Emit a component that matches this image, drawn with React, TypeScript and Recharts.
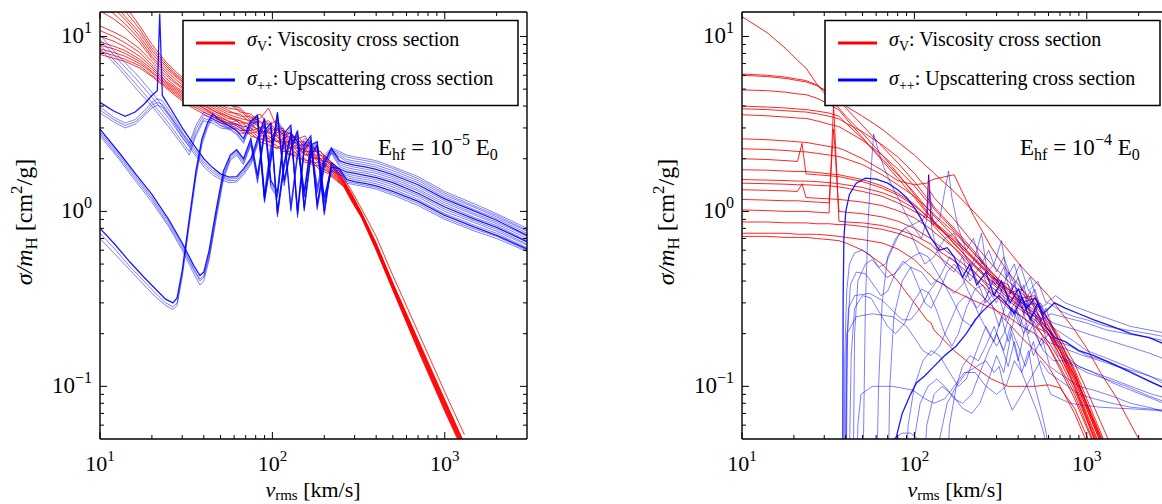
import { LineChart, Line, XAxis, YAxis } from 'recharts';

const FONT = 'Liberation Serif, DejaVu Serif, serif';
const N = null;

// axis ticks (log axes, minor ticks included)
const X_TICKS = [10, 20, 30, 40, 50, 60, 70, 80, 90, 100, 200, 300, 400, 500, 600, 700, 800, 900, 1000, 2000];
const Y_TICKS = [0.06, 0.07, 0.08, 0.09, 0.1, 0.2, 0.3, 0.4, 0.5, 0.6, 0.7, 0.8, 0.9, 1, 2, 3, 4, 5, 6, 7, 8, 9, 10];
const X_DOMAIN = [10, 3000];
const Y_DOMAIN = [0.05, 13.8];

// ---------- left panel: E_hf = 1e-5 E0 ----------
const L_RED_V = [10, 12, 14, 17, 20, 24, 28, 33, 40, 47, 55, 65, 75, 85, 95, 105, 115, 125, 140, 155, 170, 190, 210, 235, 260, 290, 330, 400, 500, 700, 1000, 1300];
const L_RED = [
  [22, 18, 15, 11.5, 9.0, 7.2, 6.2, 5.4, 4.8, 4.4, 4.1, 3.9, 3.4, 3.6, 3.1, 3.3, 2.9, 2.8, 2.6, 2.7, 2.3, 2.2, 2.0, 1.8, 1.55, 1.3, 1.03, 0.72, 0.43, 0.205, 0.093, 0.053],
  [20, 16.5, 14, 11, 8.6, 7.0, 6.0, 5.3, 4.7, 4.3, 4.2, 3.7, 3.6, 3.2, 3.3, 2.9, 3.0, 2.6, 2.7, 2.4, 2.35, 2.1, 2.0, 1.75, 1.5, 1.25, 0.98, 0.66, 0.39, 0.185, 0.084, 0.047],
  [18, 15.5, 13, 10.5, 8.3, 6.8, 5.9, 5.1, 4.6, 4.2, 3.9, 3.8, 3.3, 3.4, 3.9, 3.1, 2.7, 2.8, 2.5, 2.5, 2.2, 2.2, 1.95, 1.72, 1.49, 1.24, 0.97, 0.655, 0.387, 0.183, 0.083, 0.047],
  [16.5, 14.5, 12.5, 10.0, 8.0, 6.6, 5.8, 5.0, 4.5, 4.1, 3.8, 3.5, 3.5, 3.0, 3.2, 2.8, 2.9, 2.5, 2.6, 2.3, 2.4, 2.0, 2.0, 1.7, 1.48, 1.23, 0.965, 0.65, 0.384, 0.181, 0.082, 0.046],
  [15, 13.5, 11.8, 9.6, 7.7, 6.4, 5.6, 4.9, 4.4, 4.0, 3.7, 3.6, 3.2, 3.3, 2.8, 3.0, 2.6, 2.7, 2.4, 2.4, 2.1, 2.1, 1.9, 1.68, 1.47, 1.22, 0.96, 0.645, 0.381, 0.179, 0.081, 0.046],
  [14, 12.6, 11.2, 9.2, 7.5, 6.2, 5.4, 4.8, 4.3, 3.9, 3.6, 3.4, 3.3, 3.0, 3.0, 2.7, 2.8, 2.4, 2.5, 2.2, 2.2, 1.95, 1.92, 1.66, 1.46, 1.21, 0.955, 0.64, 0.378, 0.177, 0.08, 0.045],
  [11.5, 10.6, 9.8, 8.5, 7.2, 6.0, 5.3, 4.7, 4.2, 3.8, 3.5, 3.3, 3.1, 2.9, 2.8, 2.7, 2.5, 2.5, 2.3, 2.25, 2.05, 2.0, 1.8, 1.64, 1.45, 1.2, 0.95, 0.635, 0.375, 0.175, 0.079, 0.045],
  [10.8, 10.0, 9.2, 8.1, 6.9, 5.8, 5.1, 4.6, 4.1, 3.7, 3.5, 3.2, 3.2, 2.8, 2.9, 2.5, 2.6, 2.3, 2.4, 2.1, 2.15, 1.9, 1.85, 1.62, 1.44, 1.19, 0.945, 0.63, 0.372, 0.173, 0.078, 0.044],
  [10.0, 9.4, 8.7, 7.7, 6.7, 5.6, 5.0, 4.5, 4.0, 3.7, 3.4, 3.3, 2.9, 3.0, 2.6, 2.8, 2.4, 2.5, 2.2, 2.3, 2.0, 2.0, 1.75, 1.6, 1.43, 1.18, 0.94, 0.625, 0.369, 0.171, 0.077, 0.044],
  [9.3, 8.8, 8.3, 7.4, 6.5, 5.5, 4.9, 4.4, 3.9, 3.6, 3.3, 3.1, 3.0, 2.7, 2.7, 2.5, 2.5, 2.3, 2.3, 2.1, 2.1, 1.85, 1.8, 1.58, 1.42, 1.17, 0.935, 0.62, 0.366, 0.169, 0.076, 0.043],
  [8.9, 8.5, 8.0, 7.2, 6.3, 5.4, 4.8, 4.3, 3.9, 3.5, 3.3, 3.0, 2.8, 2.9, 2.5, 2.6, 2.3, 2.4, 2.1, 2.2, 1.9, 1.9, 1.72, 1.56, 1.41, 1.16, 0.93, 0.615, 0.363, 0.167, 0.075, 0.043],
  [8.5, 8.1, 7.7, 7.0, 6.2, 5.3, 4.7, 4.2, 3.8, 3.5, 3.2, 3.1, 2.7, 2.6, 2.6, 2.3, 2.4, 2.1, 2.2, 1.95, 1.95, 1.78, 1.7, 1.54, 1.4, 1.15, 0.925, 0.61, 0.36, 0.165, 0.074, 0.042],
  [8.2, 7.8, 7.4, 6.8, 6.0, 5.2, 4.6, 4.1, 3.7, 3.4, 3.2, 2.9, 2.9, 2.6, 2.5, 2.4, 2.2, 2.2, 2.0, 2.0, 1.85, 1.8, 1.68, 1.52, 1.39, 1.14, 0.92, 0.605, 0.357, 0.163, 0.073, 0.042],
  [7.9, 7.5, 7.2, 6.6, 5.9, 5.1, 4.5, 4.0, 3.6, 3.3, 3.1, 2.8, 2.8, 2.5, 2.4, 2.3, 2.3, 2.1, 2.1, 1.9, 1.9, 1.72, 1.65, 1.5, 1.38, 1.13, 0.915, 0.6, 0.354, 0.161, 0.072, 0.041],
];

// blue bundle starting near 10 cm^2/g
const L_BLUE_A_V = [10, 13, 16, 20, 25, 30, 33, 36, 40, 45, 50, 56, 62, 68, 75, 82, 90, 98, 107, 117, 128, 140, 153, 167, 182, 200, 220, 245, 270, 300, 350, 400, 500, 700, 1000, 1500, 2000, 3000];
const L_BLUE_A = [
  [10.2, 7.6, 6.2, 4.8, 3.6, 2.8, 2.45, 3.1, 3.7, 3.5, 3.3, 3.2, 3.3, 3.0, 3.2, 3.6, 1.3, 2.4, 3.3, 2.9, 1.1, 2.2, 2.6, 2.5, 1.4, 2.1, 2.3, 2.2, 2.1, 2.05, 2.0, 1.95, 1.8, 1.58, 1.3, 1.1, 0.97, 0.8],
  [9.6, 7.2, 5.8, 4.5, 3.4, 2.65, 2.35, 2.95, 3.55, 3.4, 3.2, 3.1, 3.2, 2.9, 3.1, 3.5, 1.25, 2.3, 3.2, 2.8, 1.05, 2.15, 2.5, 2.45, 1.35, 2.05, 2.25, 2.15, 2.05, 2.0, 1.95, 1.9, 1.76, 1.54, 1.27, 1.07, 0.95, 0.78],
  [8.9, 6.8, 5.4, 4.2, 3.2, 2.5, 2.2, 2.8, 3.4, 3.3, 3.1, 3.0, 3.1, 2.85, 3.0, 3.4, 1.2, 2.25, 3.1, 2.75, 1.02, 2.1, 2.45, 2.4, 1.3, 2.0, 2.2, 2.1, 1.98, 1.94, 1.89, 1.84, 1.71, 1.5, 1.24, 1.05, 0.93, 0.77],
  [8.5, 6.5, 5.1, 4.0, 3.05, 2.4, 2.1, 2.7, 3.3, 3.2, 3.0, 2.95, 3.0, 2.8, 2.9, 3.3, 1.15, 2.2, 3.0, 2.7, 1.0, 2.05, 2.4, 2.35, 1.27, 1.95, 2.15, 2.05, 1.93, 1.89, 1.84, 1.79, 1.66, 1.46, 1.21, 1.02, 0.91, 0.75],
];

// blue bundle near 4 cm^2/g with the resonance spike
const L_BLUE_B_V = [10, 12, 14, 16, 18, 20, 21.5, 22.2, 23, 26, 30, 35, 40, 45, 50, 56, 62, 68, 75, 82, 90, 98, 107, 117, 128, 140, 153, 167, 182, 200, 220, 245, 270, 300, 350, 400, 500, 700, 1000, 1500, 2000, 3000];
const L_BLUE_B = [
  [4.2, 3.75, 3.5, 3.7, 4.1, 4.6, 4.9, 13.5, 4.6, 3.8, 3.0, 2.4, 2.0, 1.78, 1.64, 1.57, 1.58, 1.75, 2.0, 2.6, 3.4, 1.5, 1.3, 2.8, 3.1, 1.0, 2.4, 2.7, 1.1, 1.9, 2.3, 1.95, 1.88, 1.84, 1.79, 1.74, 1.62, 1.42, 1.18, 1.0, 0.89, 0.73],
  [3.95, 3.45, 3.2, 3.35, 3.75, 4.2, 4.4, 4.35, 4.3, 3.6, 2.85, 2.3, 1.92, 1.72, 1.6, 1.53, 1.54, 1.7, 1.95, 2.5, 3.3, 1.45, 1.25, 2.7, 3.0, 0.97, 2.3, 2.6, 1.07, 1.85, 2.25, 1.9, 1.83, 1.79, 1.74, 1.69, 1.58, 1.38, 1.15, 0.97, 0.87, 0.72],
  [3.8, 3.35, 3.1, 3.25, 3.6, 4.05, 4.2, 4.15, 4.1, 3.45, 2.75, 2.22, 1.86, 1.67, 1.56, 1.5, 1.5, 1.66, 1.9, 2.45, 3.2, 1.4, 1.22, 2.65, 2.9, 0.95, 2.25, 2.55, 1.05, 1.8, 2.2, 1.85, 1.78, 1.74, 1.69, 1.65, 1.54, 1.34, 1.12, 0.95, 0.85, 0.7],
  [3.65, 3.25, 3.0, 3.15, 3.5, 3.9, 4.05, 4.0, 3.95, 3.35, 2.65, 2.15, 1.8, 1.62, 1.52, 1.46, 1.47, 1.62, 1.85, 2.4, 3.1, 1.36, 1.2, 2.6, 2.85, 0.92, 2.2, 2.5, 1.02, 1.75, 2.15, 1.8, 1.73, 1.69, 1.65, 1.6, 1.5, 1.31, 1.09, 0.92, 0.83, 0.68],
];

// blue bundle near 3 cm^2/g, dip at ~38 km/s
const L_BLUE_C_V = [10, 13, 16, 20, 25, 30, 35, 38, 40, 43, 47, 52, 57, 62, 68, 75, 82, 90, 98, 107, 117, 128, 140, 153, 167, 182, 200, 220, 245, 270, 300, 350, 400, 500, 700, 1000, 1500, 2000, 3000];
const L_BLUE_C = [
  [2.95, 2.15, 1.65, 1.25, 0.9, 0.66, 0.49, 0.43, 0.45, 0.6, 1.0, 1.7, 2.1, 2.25, 2.0, 2.6, 1.6, 2.9, 3.2, 1.0, 1.9, 2.8, 2.5, 1.3, 2.4, 2.5, 1.2, 1.8, 1.75, 1.68, 1.65, 1.6, 1.56, 1.46, 1.27, 1.06, 0.9, 0.81, 0.67],
  [2.85, 2.08, 1.6, 1.2, 0.87, 0.64, 0.47, 0.41, 0.43, 0.57, 0.95, 1.62, 2.05, 2.2, 1.95, 2.5, 1.55, 2.8, 3.1, 0.97, 1.85, 2.7, 2.45, 1.25, 2.35, 2.45, 1.15, 1.75, 1.7, 1.64, 1.6, 1.56, 1.52, 1.42, 1.24, 1.03, 0.88, 0.79, 0.65],
  [2.78, 2.02, 1.55, 1.17, 0.84, 0.62, 0.46, 0.4, 0.42, 0.55, 0.92, 1.58, 2.0, 2.15, 1.9, 2.45, 1.5, 2.75, 3.05, 0.95, 1.8, 2.65, 2.4, 1.22, 2.3, 2.4, 1.12, 1.72, 1.66, 1.6, 1.56, 1.52, 1.48, 1.38, 1.21, 1.0, 0.86, 0.77, 0.64],
  [2.7, 1.97, 1.5, 1.13, 0.82, 0.6, 0.44, 0.38, 0.4, 0.53, 0.88, 1.52, 1.95, 2.1, 1.85, 2.4, 1.45, 2.7, 3.0, 0.93, 1.75, 2.6, 2.35, 1.2, 2.25, 2.35, 1.1, 1.7, 1.62, 1.56, 1.52, 1.48, 1.44, 1.34, 1.17, 0.97, 0.83, 0.75, 0.62],
];

// lowest blue bundle, dip at ~27 km/s
const L_BLUE_D_V = [10, 12, 15, 18, 21, 24, 26.5, 28, 30, 33, 36, 39, 42, 45, 50, 56, 62, 68, 75, 82, 90, 98, 107, 117, 128, 140, 153, 167, 182, 200, 220, 245, 270, 300, 350, 400, 500, 700, 1000, 1500, 2000, 3000];
const L_BLUE_D = [
  [0.8, 0.66, 0.51, 0.42, 0.36, 0.315, 0.3, 0.32, 0.46, 0.92, 1.7, 2.6, 3.2, 3.6, 3.3, 3.1, 2.9, 2.6, 3.3, 3.5, 1.2, 2.0, 3.7, 1.5, 2.3, 2.9, 1.05, 2.1, 2.4, 1.0, 1.9, 1.75, 1.52, 1.48, 1.44, 1.4, 1.3, 1.14, 0.95, 0.81, 0.73, 0.61],
  [0.75, 0.62, 0.48, 0.4, 0.34, 0.3, 0.285, 0.3, 0.44, 0.88, 1.62, 2.5, 3.1, 3.5, 3.2, 3.0, 2.8, 2.5, 3.2, 3.4, 1.15, 1.95, 3.6, 1.45, 2.25, 2.8, 1.02, 2.05, 2.35, 0.97, 1.85, 1.7, 1.48, 1.45, 1.41, 1.37, 1.27, 1.11, 0.92, 0.79, 0.72, 0.6],
  [0.7, 0.58, 0.46, 0.38, 0.325, 0.29, 0.275, 0.29, 0.42, 0.84, 1.55, 2.4, 3.0, 3.4, 3.1, 2.95, 2.75, 2.45, 3.1, 3.3, 1.12, 1.9, 3.5, 1.4, 2.2, 2.75, 1.0, 2.0, 2.3, 0.95, 1.8, 1.65, 1.45, 1.42, 1.38, 1.34, 1.24, 1.08, 0.9, 0.77, 0.7, 0.59],
];

// ---------- right panel: E_hf = 1e-4 E0 ----------
const R_RED_V = [10, 14, 18, 21, 22.3, 23.5, 27, 32, 34, 36.5, 40, 50, 65, 80, 100, 118, 121, 125, 130, 170, 220, 280, 350, 420, 500, 600, 700, 850, 1000, 1200, 1500, 2000];
const R_RED = [
  [13.0, 10.5, 8.5, 7.3, N, 6.6, 5.4, 4.4, N, 3.9, 3.5, 2.8, 2.1, 1.65, 1.25, 1.0, N, 0.93, 0.88, 0.65, 0.5, 0.4, 0.33, 0.28, 0.23, 0.17, 0.125, 0.085, 0.058, 0.038, 0.022, 0.011],
  [6.1, 6.0, 5.85, 5.7, N, 5.6, 5.3, 4.7, N, 4.3, 3.9, 3.1, 2.35, 1.9, 1.48, 1.2, N, 1.13, 1.06, 0.8, 0.6, 0.45, 0.36, 0.3, 0.26, 0.21, 0.16, 0.105, 0.07, 0.045, 0.026, 0.013],
  [6.0, 5.9, 5.75, 5.6, N, 5.5, 5.25, 4.8, N, 4.5, 4.0, 3.5, 2.95, 2.5, 2.1, 1.8, N, 1.72, 1.65, 1.3, 1.0, 0.78, 0.6, 0.48, 0.4, 0.33, 0.27, 0.21, 0.165, 0.12, 0.085, 0.05],
  [4.95, 4.9, 4.8, 4.7, N, 4.65, 4.45, 4.1, N, 3.8, 3.4, 2.65, 1.95, 1.55, 1.2, 0.98, N, 0.92, 0.86, 0.66, 0.5, 0.4, 0.36, 0.3, 0.32, 0.22, 0.16, 0.1, 0.065, 0.04, 0.023, 0.012],
  [4.0, 3.95, 3.9, 3.85, N, 3.82, 3.75, 3.65, N, 3.5, 3.2, 2.6, 2.0, 1.62, 1.28, 1.05, N, 0.99, 0.94, 0.72, 0.54, 0.42, 0.38, 0.28, 0.3, 0.24, 0.18, 0.12, 0.078, 0.05, 0.029, 0.015],
  [3.86, 3.82, 3.76, 3.72, N, 3.7, 3.62, 3.5, N, 3.38, 3.2, 2.85, 2.4, 2.05, 1.65, 1.35, N, 1.28, 1.2, 0.9, 0.66, 0.5, 0.4, 0.34, 0.29, 0.23, 0.18, 0.125, 0.085, 0.055, 0.032, 0.017],
  [3.57, 3.52, 3.46, 3.42, N, 3.4, 3.3, 3.15, N, 3.05, 2.9, 2.55, 2.1, 1.75, 1.4, 1.15, N, 1.1, 1.03, 0.78, 0.58, 0.44, 0.33, 0.3, 0.25, 0.2, 0.15, 0.1, 0.066, 0.042, 0.025, 0.013],
  [2.6, 2.57, 2.53, 2.5, N, 2.48, 2.42, 2.35, N, 2.3, 2.22, 2.0, 1.72, 1.5, 1.42, 1.45, N, 1.5, 1.53, 1.62, 0.95, 0.62, 0.45, 0.36, 0.3, 0.24, 0.18, 0.12, 0.08, 0.052, 0.03, 0.016],
  [2.28, 2.26, 2.23, 2.2, N, 2.19, 2.15, 2.1, N, 2.06, 2.0, 1.85, 1.62, 1.42, 1.22, 1.05, N, 1.0, 0.96, 0.76, 0.58, 0.45, 0.36, 0.31, 0.27, 0.22, 0.17, 0.115, 0.078, 0.05, 0.03, 0.016],
  [2.0, 1.98, 1.95, 1.93, 2.45, 1.64, 1.62, 1.6, N, 1.58, 1.55, 1.48, 1.36, 1.24, 1.08, 0.94, N, 0.9, 0.87, 0.7, 0.55, 0.43, 0.35, 0.3, 0.26, 0.21, 0.16, 0.11, 0.074, 0.048, 0.028, 0.015],
  [1.73, 1.72, 1.7, 1.69, N, 1.69, 1.67, 1.64, N, 1.62, 1.59, 1.52, 1.4, 1.27, 1.1, 0.94, N, 0.9, 0.86, 0.68, 0.53, 0.42, 0.34, 0.36, 0.28, 0.2, 0.15, 0.1, 0.068, 0.044, 0.026, 0.014],
  [1.52, 1.51, 1.5, 1.49, N, 1.49, 1.48, 1.46, N, 1.44, 1.42, 1.37, 1.28, 1.18, 1.04, 0.9, N, 0.87, 0.84, 0.68, 0.54, 0.43, 0.36, 0.32, 0.33, 0.24, 0.19, 0.135, 0.095, 0.063, 0.038, 0.02],
  [1.45, 1.44, 1.43, 1.42, N, 1.42, 1.41, 1.4, N, 1.38, 1.36, 1.3, 1.22, 1.12, 1.0, 0.92, 1.62, 0.86, 0.82, 0.62, 0.46, 0.35, 0.28, 0.25, 0.22, 0.2, 0.16, 0.115, 0.08, 0.053, 0.032, 0.017],
  [1.33, 1.32, 1.31, 1.3, 1.44, 1.2, 1.19, 1.18, N, 1.17, 1.16, 1.13, 1.08, 1.01, 0.92, 0.82, N, 0.79, 0.76, 0.62, 0.49, 0.39, 0.32, 0.28, 0.25, 0.21, 0.165, 0.115, 0.078, 0.05, 0.03, 0.016],
  [1.17, 1.16, 1.15, 1.15, N, 1.14, 1.13, 1.12, 2.96, 1.0, 0.99, 0.97, 0.93, 0.88, 0.8, 0.72, N, 0.7, 0.67, 0.55, 0.45, 0.37, 0.31, 0.27, 0.24, 0.2, 0.16, 0.11, 0.075, 0.048, 0.028, 0.015],
  [1.02, 1.01, 1.0, 1.0, N, 1.0, 0.99, 0.98, 4.1, 0.88, 0.87, 0.86, 0.83, 0.79, 0.73, 0.67, N, 0.65, 0.62, 0.52, 0.42, 0.34, 0.29, 0.25, 0.22, 0.18, 0.14, 0.095, 0.064, 0.041, 0.024, 0.013],
  [0.87, 0.87, 0.86, 0.86, N, 0.86, 0.85, 0.85, N, 0.84, 0.84, 0.82, 0.79, 0.75, 0.69, 0.62, N, 0.6, 0.58, 0.47, 0.37, 0.29, 0.23, 0.19, 0.16, 0.13, 0.1, 0.07, 0.048, 0.032, 0.019, 0.01],
  [0.75, 0.75, 0.75, 0.74, N, 0.74, 0.74, 0.73, N, 0.72, 0.71, 0.69, 0.66, 0.61, 0.53, 0.45, N, 0.43, 0.41, 0.35, 0.31, 0.28, 0.25, 0.22, 0.2, 0.17, 0.13, 0.09, 0.06, 0.039, 0.023, 0.012],
  [0.72, 0.72, 0.71, 0.71, N, 0.71, 0.7, 0.69, N, 0.68, 0.66, 0.6, 0.5, 0.4, 0.3, 0.24, N, 0.23, 0.21, 0.16, 0.13, 0.11, 0.1, 0.1, 0.1, 0.102, 0.098, 0.075, 0.052, 0.034, 0.02, 0.011],
];

// right panel blue curves as [v, sigma] pairs
const R_BLUE: number[][][] = [
  [[38.4, 0.02], [38.6, 0.3], [39, 0.7], [40, 1.0], [42, 1.25], [46, 1.45], [52, 1.55], [60, 1.53], [70, 1.45], [80, 1.33], [90, 1.2], [100, 1.05], [110, 0.9], [125, 0.7], [140, 0.6], [155, 0.62], [170, 0.55], [190, 0.42], [210, 0.5], [230, 0.38], [260, 0.45], [290, 0.33], [320, 0.4], [360, 0.3], [400, 0.36], [450, 0.28], [500, 0.32], [560, 0.26], [650, 0.3], [750, 0.28], [900, 0.26], [1100, 0.24], [1400, 0.22], [1800, 0.2], [2300, 0.19], [3000, 0.17]],
  [[39, 0.02], [39.5, 0.15], [40.5, 0.35], [42, 0.5], [45, 0.58], [50, 0.6], [56, 0.56], [62, 0.48], [68, 0.5], [75, 0.62], [82, 0.75], [88, 0.8], [95, 0.75], [105, 0.6], [115, 0.5], [130, 0.55], [150, 0.7], [170, 0.75], [190, 0.6], [220, 0.45], [260, 0.3], [300, 0.36], [340, 0.24], [380, 0.3], [430, 0.22], [500, 0.26], [580, 0.2], [680, 0.18], [800, 0.17], [1000, 0.15], [1300, 0.14], [1700, 0.125], [2200, 0.11], [3000, 0.095]],
  [[40, 0.02], [41, 0.2], [42.5, 0.38], [46, 0.45], [52, 0.44], [58, 0.38], [64, 0.33], [70, 0.35], [78, 0.45], [86, 0.52], [95, 0.48], [105, 0.38], [115, 0.3], [125, 0.28], [140, 0.35], [155, 0.45], [170, 0.5], [185, 0.45], [205, 0.35], [230, 0.28], [260, 0.32], [290, 0.42], [320, 0.35], [350, 0.45], [390, 0.3], [430, 0.38], [480, 0.25], [540, 0.3], [620, 0.22], [720, 0.2], [850, 0.18], [1000, 0.16], [1300, 0.145], [1700, 0.13], [2300, 0.115], [3000, 0.1]],
  [[41.5, 0.02], [43, 0.15], [45, 0.28], [50, 0.33], [56, 0.32], [62, 0.27], [70, 0.22], [78, 0.2], [88, 0.23], [98, 0.3], [110, 0.36], [122, 0.34], [135, 0.27], [150, 0.2], [165, 0.17], [180, 0.2], [200, 0.28], [225, 0.36], [250, 0.38], [280, 0.3], [310, 0.22], [340, 0.3], [380, 0.4], [420, 0.28], [470, 0.35], [520, 0.22], [580, 0.28], [650, 0.2], [750, 0.15], [900, 0.13], [1100, 0.12], [1400, 0.105], [1800, 0.095], [2400, 0.085], [3000, 0.078]],
  [[40, 0.02], [40.6, 0.2], [46, 0.25], [57, 0.26], [75, 0.25], [90, 0.22], [100, 0.19], [112, 0.16], [125, 0.15], [140, 0.17], [160, 0.23], [180, 0.3], [200, 0.33], [220, 0.3], [245, 0.24], [270, 0.2], [300, 0.17], [330, 0.2], [370, 0.28], [410, 0.22], [450, 0.3], [500, 0.2], [560, 0.16], [640, 0.14], [740, 0.14], [860, 0.13], [1000, 0.12], [1300, 0.11], [1700, 0.1], [2300, 0.088], [3000, 0.08]],
  [[46, 0.02], [47, 0.06], [49, 0.09], [57, 0.1], [75, 0.1], [98, 0.095], [115, 0.085], [130, 0.08], [150, 0.085], [170, 0.1], [195, 0.12], [225, 0.12], [260, 0.1], [300, 0.09], [340, 0.1], [380, 0.14], [420, 0.12], [470, 0.09], [520, 0.07], [560, 0.055], [600, 0.04], [620, 0.03]],
  [[70, 0.03], [75, 0.05], [85, 0.054], [95, 0.054], [105, 0.05], [115, 0.045], [125, 0.04]],
  [[74, 0.03], [78, 0.05], [85, 0.07], [95, 0.09], [103, 0.105], [115, 0.115], [130, 0.13], [150, 0.15], [175, 0.17], [200, 0.2], [225, 0.24], [250, 0.27], [280, 0.3], [310, 0.33], [340, 0.3], [380, 0.26], [420, 0.32], [470, 0.24], [520, 0.3], [580, 0.22], [650, 0.19], [750, 0.18], [900, 0.16], [1100, 0.15], [1400, 0.135], [1800, 0.12], [2400, 0.105], [3000, 0.095]],
  [[50, 0.02], [52, 0.3], [54, 0.9], [56, 1.7], [58, 2.77], [62, 2.2], [67, 1.75], [74, 1.4], [81, 1.18], [90, 0.95], [100, 0.8], [110, 0.7], [118, 0.9], [122, 1.3], [126, 0.8], [135, 0.6], [150, 0.5], [170, 0.45], [190, 0.55], [210, 0.4], [240, 0.48], [270, 0.36], [300, 0.42], [340, 0.3], [380, 0.38], [430, 0.26], [480, 0.32], [540, 0.24], [620, 0.26], [720, 0.25], [850, 0.24], [1000, 0.23], [1300, 0.21], [1700, 0.2], [2300, 0.19], [3000, 0.18]],
  [[60, 0.02], [62, 0.1], [65, 0.3], [70, 0.55], [78, 0.7], [88, 0.8], [100, 0.85], [112, 0.9], [118, 1.0], [121, 1.62], [125, 1.1], [129, 0.84], [140, 0.9], [152, 1.4], [158, 1.7], [165, 1.2], [180, 0.8], [200, 0.6], [220, 0.7], [245, 0.5], [270, 0.6], [300, 0.45], [330, 0.55], [370, 0.4], [410, 0.5], [460, 0.35], [520, 0.4], [580, 0.3], [660, 0.33], [750, 0.3], [900, 0.28], [1100, 0.26], [1400, 0.24], [1800, 0.22], [2300, 0.21], [3000, 0.2]],
  [[70, 0.02], [72, 0.1], [76, 0.25], [85, 0.4], [95, 0.48], [110, 0.45], [125, 0.38], [140, 0.42], [160, 0.55], [180, 0.5], [200, 0.42], [225, 0.55], [245, 0.75], [265, 0.45], [290, 0.5], [320, 0.68], [345, 0.42], [380, 0.5], [420, 0.35], [470, 0.42], [530, 0.28], [600, 0.3], [700, 0.27], [850, 0.25], [1000, 0.24], [1300, 0.22], [1700, 0.21], [2300, 0.2], [3000, 0.19]],
  [[88, 0.02], [92, 0.06], [100, 0.1], [112, 0.14], [125, 0.16], [140, 0.15], [160, 0.12], [180, 0.1], [200, 0.11], [230, 0.16], [260, 0.22], [290, 0.18], [320, 0.25], [350, 0.18], [390, 0.27], [430, 0.2], [480, 0.24], [540, 0.17], [600, 0.2], [680, 0.15], [780, 0.14], [900, 0.13], [1100, 0.12], [1400, 0.11], [1800, 0.1], [2400, 0.09], [3000, 0.085]],
  [[110, 0.02], [118, 0.06], [130, 0.09], [145, 0.1], [165, 0.09], [190, 0.075], [215, 0.07], [240, 0.08], [270, 0.11], [300, 0.15], [330, 0.12], [365, 0.2], [400, 0.14], [440, 0.22], [490, 0.15], [550, 0.19], [610, 0.13], [680, 0.12], [780, 0.11], [900, 0.1], [1100, 0.095], [1400, 0.088], [1800, 0.08], [2400, 0.075], [3000, 0.07]],
  [[150, 0.02], [160, 0.06], [175, 0.1], [190, 0.13], [210, 0.15], [235, 0.14], [260, 0.17], [290, 0.22], [320, 0.17], [350, 0.13], [380, 0.18], [420, 0.12], [460, 0.16], [500, 0.1], [540, 0.075], [580, 0.055], [610, 0.04], [640, 0.025]],
  [[130, 0.02], [140, 0.05], [155, 0.08], [175, 0.1], [200, 0.12], [230, 0.13], [260, 0.14], [290, 0.12], [310, 0.13], [340, 0.09], [370, 0.073], [420, 0.09], [480, 0.114], [540, 0.14], [600, 0.12], [680, 0.11], [780, 0.1], [900, 0.09], [1100, 0.085], [1400, 0.08], [1800, 0.076], [2400, 0.074], [3000, 0.073]],
  [[39.5, 0.02], [40.2, 0.15], [41.5, 0.28], [45, 0.33], [55, 0.34], [65, 0.31], [75, 0.27], [85, 0.24], [95, 0.24], [108, 0.28], [120, 0.34], [135, 0.4], [150, 0.38], [170, 0.3], [190, 0.24], [215, 0.22], [240, 0.26], [270, 0.35], [300, 0.3], [330, 0.38], [370, 0.25], [410, 0.33], [460, 0.2], [520, 0.26], [590, 0.18], [680, 0.17], [800, 0.16], [950, 0.15], [1200, 0.14], [1500, 0.13], [2000, 0.12], [3000, 0.105]],
  [[44, 0.02], [45, 0.2], [47, 0.4], [52, 0.5], [57, 0.53], [63, 0.47], [69, 0.42], [77, 0.44], [86, 0.5], [97, 0.55], [108, 0.58], [120, 0.55], [135, 0.45], [150, 0.38], [170, 0.34], [190, 0.38], [215, 0.48], [240, 0.55], [265, 0.45], [295, 0.38], [330, 0.48], [360, 0.34], [400, 0.42], [450, 0.3], [500, 0.36], [560, 0.25], [640, 0.23], [740, 0.22], [870, 0.21], [1000, 0.2], [1300, 0.185], [1700, 0.17], [2300, 0.155], [3000, 0.14]],
  [[95, 0.02], [100, 0.05], [108, 0.08], [120, 0.1], [135, 0.11], [150, 0.1], [170, 0.085], [190, 0.08], [215, 0.09], [240, 0.12], [270, 0.16], [300, 0.2], [330, 0.16], [360, 0.22], [400, 0.17], [440, 0.13], [490, 0.18], [550, 0.12], [620, 0.09], [700, 0.085], [800, 0.08], [950, 0.078], [1200, 0.076], [1500, 0.075], [2000, 0.074], [3000, 0.072]],
];
const R_BLUE_DARK = [0, 7];

const RED = '#ff0000';
const BLUE = '#0000ff';

type Pt = { v: number; s: number | null };
type Series = { pts: Pt[]; color: string; op: number; w: number };

function fromGrid(vs: number[], rows: (number | null)[][], color: string, op: number, dark: number[] = []): Series[] {
  return rows.map((r, i) => ({
    pts: vs.map((v, j) => ({ v, s: r[j] })),
    color,
    op: dark.includes(i) ? 0.9 : op,
    w: dark.includes(i) ? 1.3 : 1,
  }));
}

const LEFT_SERIES: Series[] = [
  ...fromGrid(L_RED_V, L_RED, RED, 0.8),
  ...fromGrid(L_BLUE_A_V, L_BLUE_A, BLUE, 0.5),
  ...fromGrid(L_BLUE_B_V, L_BLUE_B, BLUE, 0.5, [0]),
  ...fromGrid(L_BLUE_C_V, L_BLUE_C, BLUE, 0.5, [0]),
  ...fromGrid(L_BLUE_D_V, L_BLUE_D, BLUE, 0.5, [0]),
];

const RIGHT_SERIES: Series[] = [
  ...fromGrid(R_RED_V, R_RED, RED, 0.85),
  ...R_BLUE.map((c, i) => ({
    pts: c.map(([v, s]) => ({ v, s })),
    color: BLUE,
    op: R_BLUE_DARK.includes(i) ? 0.9 : 0.5,
    w: R_BLUE_DARK.includes(i) ? 1.3 : 1,
  })),
];

const isMajor = (v: number) => Math.abs(Math.log10(v) - Math.round(Math.log10(v))) < 1e-6;
const expText = (v: number) => {
  const e = Math.round(Math.log10(v));
  return e < 0 ? '\u2212' + Math.abs(e) : String(e);
};

const TXT = { fontFamily: FONT };

const BottomTick = (p: any) => {
  const { x, y, payload } = p;
  const major = isMajor(payload.value);
  return (
    <g>
      <line x1={x} x2={x} y1={y} y2={y - (major ? 7 : 4)} stroke="#000" strokeWidth={1} />
      {major && (
        <text x={x} y={y + 32} textAnchor="middle" style={TXT} fontFamily={FONT} fontSize={22} fill="#000">
          10<tspan dy={-10} fontSize={15}>{expText(payload.value)}</tspan>
        </text>
      )}
    </g>
  );
};

const TopTick = (p: any) => {
  const { x, y, payload } = p;
  const major = isMajor(payload.value);
  return <line x1={x} x2={x} y1={y} y2={y + (major ? 7 : 4)} stroke="#000" strokeWidth={1} />;
};

const LeftTick = (p: any) => {
  const { x, y, payload } = p;
  const major = isMajor(payload.value);
  return (
    <g>
      <line x1={x} x2={x + (major ? 7 : 4)} y1={y} y2={y} stroke="#000" strokeWidth={1} />
      {major && (
        <text x={x - 8} y={y + 7} textAnchor="end" style={TXT} fontFamily={FONT} fontSize={23} fill="#000">
          10<tspan dy={-10} fontSize={16}>{expText(payload.value)}</tspan>
        </text>
      )}
    </g>
  );
};

const RightTick = (p: any) => {
  const { x, y, payload } = p;
  const major = isMajor(payload.value);
  return <line x1={x} x2={x - (major ? 7 : 4)} y1={y} y2={y} stroke="#000" strokeWidth={1} />;
};

const AXIS_LINE = { stroke: '#000', strokeWidth: 1.4 };

function Panel({ series, left, margin }: { series: Series[]; left: number; margin: any }) {
  return (
    <div style={{ position: 'absolute', left, top: 0 }}>
      <LineChart width={540} height={504} margin={margin}>
        <XAxis xAxisId="b" type="number" dataKey="v" scale="log" domain={X_DOMAIN} allowDataOverflow ticks={X_TICKS} interval={0}
          height={1} tickSize={0} tickMargin={0} tickLine={false} axisLine={AXIS_LINE} tick={BottomTick} />
        <XAxis xAxisId="t" orientation="top" type="number" dataKey="v" scale="log" domain={X_DOMAIN} allowDataOverflow ticks={X_TICKS} interval={0}
          height={1} tickSize={0} tickMargin={0} tickLine={false} axisLine={AXIS_LINE} tick={TopTick} />
        <YAxis yAxisId="l" type="number" scale="log" domain={Y_DOMAIN} allowDataOverflow ticks={Y_TICKS} interval={0}
          width={1} tickSize={0} tickMargin={0} tickLine={false} axisLine={AXIS_LINE} tick={LeftTick} />
        <YAxis yAxisId="r" orientation="right" type="number" scale="log" domain={Y_DOMAIN} allowDataOverflow ticks={Y_TICKS} interval={0}
          width={1} tickSize={0} tickMargin={0} tickLine={false} axisLine={AXIS_LINE} tick={RightTick} />
        {series.map((s, i) => (
          <Line key={i} xAxisId="b" yAxisId="l" data={s.pts} dataKey="s" type="linear" stroke={s.color} strokeOpacity={s.op}
            strokeWidth={s.w} dot={false} activeDot={false} connectNulls isAnimationActive={false} />
        ))}
      </LineChart>
    </div>
  );
}

function Legend({ x }: { x: number }) {
  return (
    <g style={TXT} fontFamily={FONT} fill="#000">
      <rect x={x} y={20.5} width={335} height={85} fill="#fff" stroke="#000" strokeWidth={1.5} />
      <line x1={x + 13} x2={x + 52} y1={43} y2={43} stroke={RED} strokeWidth={3} />
      <text x={x + 64} y={46} fontSize={20} style={TXT}>
        <tspan fontStyle="italic">σ</tspan><tspan dy={5} fontSize={14}>V</tspan><tspan dy={-5}>: Viscosity cross section</tspan>
      </text>
      <line x1={x + 13} x2={x + 52} y1={80} y2={80} stroke={BLUE} strokeWidth={3} />
      <text x={x + 64} y={85} fontSize={20} style={TXT}>
        <tspan fontStyle="italic">σ</tspan><tspan dy={5} fontSize={14}>++</tspan><tspan dy={-5}>: Upscattering cross section</tspan>
      </text>
    </g>
  );
}

function Texts({ dx, exp }: { dx: number; exp: string }) {
  return (
    <g style={TXT} fontFamily={FONT} fill="#000">
      <text x={313 + dx} y={497} textAnchor="middle" fontSize={22} style={TXT}>
        <tspan fontStyle="italic">v</tspan><tspan dy={3} fontSize={15}>rms</tspan><tspan dy={-3}> [km/s]</tspan>
      </text>
      <text x={32 + dx} y={222} textAnchor="middle" fontSize={24} style={TXT} transform={`rotate(-90 ${32 + dx} 222)`}>
        <tspan fontStyle="italic">σ/m</tspan><tspan dy={5} fontSize={17}>H</tspan><tspan dy={-5}> [cm</tspan>
        <tspan dy={-10} fontSize={17}>2</tspan><tspan dy={10}>/g]</tspan>
      </text>
      <text x={378 + dx} y={155} fontSize={23} style={TXT}>
        E<tspan dy={5} fontSize={16}>hf</tspan><tspan dy={-5}> = 10</tspan><tspan dy={-10} fontSize={16}>{exp}</tspan>
        <tspan dy={10}> E</tspan><tspan dy={5} fontSize={16}>0</tspan>
      </text>
    </g>
  );
}

export default function App() {
  return (
    <div style={{ position: 'absolute', left: 0, top: 0, width: 1162, height: 504, overflow: 'hidden', background: '#fff' }}>
      <Panel series={LEFT_SERIES} left={0} margin={{ top: 11, right: 12, bottom: 64, left: 99 }} />
      <Panel series={RIGHT_SERIES} left={640} margin={{ top: 11, right: 10, bottom: 64, left: 101 }} />
      <svg width={1162} height={504} style={{ position: 'absolute', left: 0, top: 0, pointerEvents: 'none' }}>
        <Legend x={183} />
        <Legend x={825} />
        <Texts dx={0} exp={'\u22125'} />
        <Texts dx={642} exp={'\u22124'} />
      </svg>
    </div>
  );
}
